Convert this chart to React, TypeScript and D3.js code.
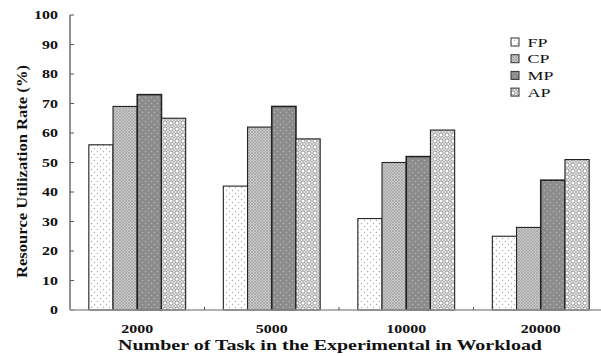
import React from "react";
import * as d3 from "d3";

const categories = ["2000", "5000", "10000", "20000"];
const seriesNames = ["FP", "CP", "MP", "AP"];
const fpValues = [56, 42, 31, 25];
const cpValues = [69, 62, 50, 28];
const mpValues = [73, 69, 52, 44];
const apValues = [65, 58, 61, 51];
const yTicks = [0, 10, 20, 30, 40, 50, 60, 70, 80, 90, 100];

const W = 601;
const H = 356;
const left = 70;
const right = 608;
const top = 15;
const bottom = 310;

const serif = "Liberation Serif";

function SText(props: {
  x: number;
  y: number;
  anchor?: "start" | "middle" | "end";
  size: number;
  sx: number;
  bold?: boolean;
  children: React.ReactNode;
}) {
  return (
    <text
      transform={`translate(${props.x},${props.y}) scale(${props.sx},1)`}
      textAnchor={props.anchor || "start"}
      fontFamily={serif}
      fontWeight={props.bold ? "bold" : "normal"}
      fontSize={props.size}
      fill="#111"
    >
      {props.children}
    </text>
  );
}

export default function App() {
  const series = [fpValues, cpValues, mpValues, apValues];
  const x = d3.scaleBand<string>().domain(categories).range([left, right]).paddingInner(0).paddingOuter(0);
  const y = d3.scaleLinear().domain([0, 100]).range([bottom, top]);
  const groupFrac = 0.72;
  const inner = d3
    .scaleBand<string>()
    .domain(seriesNames)
    .range([0, x.bandwidth() * groupFrac])
    .padding(0);
  const groupOffset = (x.bandwidth() * (1 - groupFrac)) / 2;
  const fills = ["url(#pFP)", "url(#pCP)", "url(#pMP)", "url(#pAP)"];

  return (
    <svg width={W} height={H} style={{ position: "absolute", left: 0, top: 0, background: "#fff" }}>
      <defs>
        <pattern id="pFP" width="6" height="6" patternUnits="userSpaceOnUse">
          <rect width="6" height="6" fill="#fff" />
          <circle cx="1.5" cy="1.5" r="0.7" fill="#aaa" />
          <circle cx="4.5" cy="4.5" r="0.7" fill="#aaa" />
        </pattern>
        <pattern id="pCP" width="3" height="3" patternUnits="userSpaceOnUse">
          <rect width="3" height="3" fill="#cacaca" />
          <path d="M0,0 L3,3 M3,0 L0,3" stroke="#9a9a9a" strokeWidth="0.6" />
        </pattern>
        <pattern id="pMP" width="6" height="6" patternUnits="userSpaceOnUse">
          <rect width="6" height="6" fill="#8c8c8c" />
          <circle cx="1.5" cy="1.5" r="0.8" fill="#b4b4b4" />
          <circle cx="4.5" cy="4.5" r="0.8" fill="#b4b4b4" />
        </pattern>
        <pattern id="pAP" width="6" height="6" patternUnits="userSpaceOnUse">
          <rect width="6" height="6" fill="#fff" />
          <circle cx="3" cy="3" r="2.1" fill="none" stroke="#a0a0a0" strokeWidth="1.1" />
          <circle cx="0" cy="0" r="0.9" fill="#a0a0a0" />
          <circle cx="6" cy="0" r="0.9" fill="#a0a0a0" />
          <circle cx="0" cy="6" r="0.9" fill="#a0a0a0" />
          <circle cx="6" cy="6" r="0.9" fill="#a0a0a0" />
        </pattern>
      </defs>

      {/* bars */}
      {categories.map((c, ci) => (
        <g key={c}>
          {seriesNames.map((s, si) => {
            const v = series[si][ci];
            const bx = (x(c) as number) + groupOffset + (inner(s) as number);
            return (
              <rect
                key={s}
                x={bx}
                y={y(v)}
                width={inner.bandwidth()}
                height={y(0) - y(v)}
                fill={fills[si]}
                stroke="#222"
                strokeWidth={si === 2 ? 1.6 : 1.1}
              />
            );
          })}
        </g>
      ))}

      {/* y axis */}
      <line x1={left} x2={left} y1={top} y2={bottom} stroke="#555" strokeWidth={1.3} />
      {yTicks.map((t) => (
        <g key={t}>
          <line x1={left} x2={left + 4} y1={y(t)} y2={y(t)} stroke="#555" strokeWidth={1} />
          <SText x={58} y={y(t) + 4.2} anchor="end" size={12} sx={1.33} bold>
            {t}
          </SText>
        </g>
      ))}

      {/* x axis */}
      <line x1={left} x2={right} y1={bottom} y2={bottom} stroke="#999" strokeWidth={1.5} />
      {categories.slice(1).map((c) => (
        <line key={c} x1={x(c)} x2={x(c)} y1={bottom} y2={bottom - 3} stroke="#555" strokeWidth={1} />
      ))}
      {categories.map((c) => (
        <SText key={c} x={(x(c) as number) + x.bandwidth() / 2} y={333} anchor="middle" size={12} sx={1.33} bold>
          {c}
        </SText>
      ))}

      {/* axis titles */}
      <text
        x={330}
        y={350}
        textAnchor="middle"
        fontFamily={serif}
        fontWeight="bold"
        fontSize={15}
        textLength={424}
        lengthAdjust="spacingAndGlyphs"
        fill="#111"
      >
        Number of Task in the Experimental in Workload
      </text>
      <text
        transform={`translate(27, 171.5) rotate(-90)`}
        textAnchor="middle"
        fontFamily={serif}
        fontWeight="bold"
        fontSize={14.5}
        textLength={213}
        lengthAdjust="spacingAndGlyphs"
        fill="#111"
      >
        Resource Utilization Rate (%)
      </text>

      {/* legend */}
      {seriesNames.map((s, si) => (
        <g key={s}>
          <rect x={511} y={38 + si * 16.7} width={8} height={8} fill={fills[si]} stroke="#333" strokeWidth={1} />
          <SText x={527.5} y={46.7 + si * 16.7} size={13.5} sx={1.33}>
            {s}
          </SText>
        </g>
      ))}
    </svg>
  );
}
